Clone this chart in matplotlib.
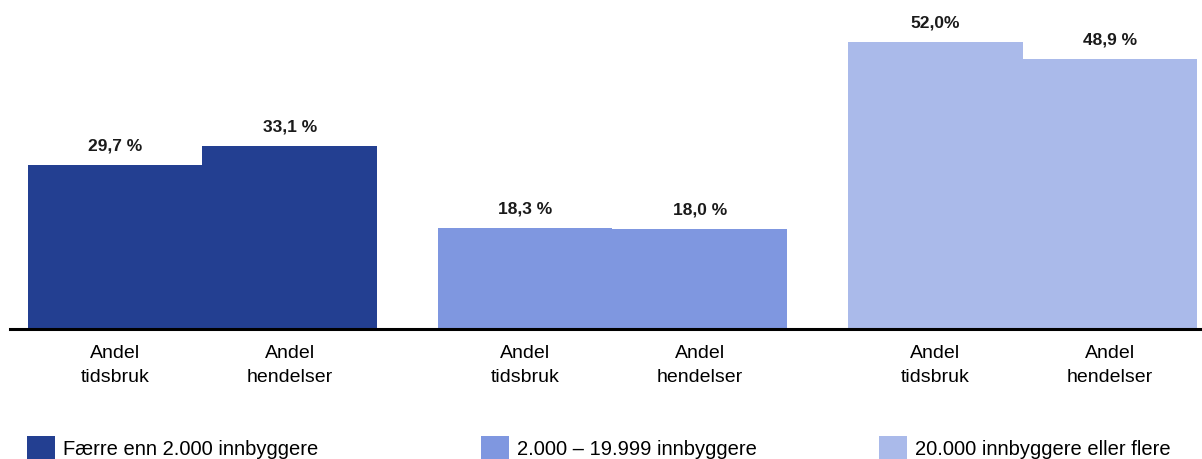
import matplotlib
matplotlib.use("Agg")
import matplotlib.pyplot as plt
from matplotlib.patches import Patch

plt.rcParams['font.family'] = ['Liberation Sans', 'DejaVu Sans']

# Data
groups = ["Færre enn 2.000 innbyggere", "2.000 – 19.999 innbyggere", "20.000 innbyggere eller flere"]
categories = ["Andel\ntidsbruk", "Andel\nhendelser"]
values = [[29.7, 33.1], [18.3, 18.0], [52.0, 48.9]]
value_labels = [["29,7 %", "33,1 %"], ["18,3 %", "18,0 %"], ["52,0%", "48,9 %"]]
colors = ["#233F91", "#7F97E0", "#AABAEA"]

W, H = 1202, 460
fig = plt.figure(figsize=(W / 100, H / 100), dpi=100)
base_px = 329.5
ax = fig.add_axes([10 / W, (H - base_px) / H, 1 - 10 / W, base_px / H])

gap = 0.35
xs, labels = [], []
for g, (vals, labs, col) in enumerate(zip(values, value_labels, colors)):
    for j, (v, lab) in enumerate(zip(vals, labs)):
        x = g * (2 + gap) + j
        ax.bar(x, v, width=1.0, color=col, edgecolor='none')
        ax.annotate(lab, (x, v), xytext=(0, 14.5), textcoords='offset points',
                    ha='center', va='center', fontsize=12.5, fontweight='bold', color='#1a1a1a')
        xs.append(x)
        labels.append(categories[j])

ax.set_xticks(xs)
ax.set_xticklabels(labels, fontsize=14, linespacing=1.5)
ax.tick_params(axis='x', length=0, pad=11.5)
ax.set_yticks([])
ax.set_ylim(0, 59.8)
ax.set_xlim(-0.5 - 18 / 174.5, xs[-1] + 0.5 + 5 / 174.5)
for s in ['top', 'right', 'left']:
    ax.spines[s].set_visible(False)
ax.spines['bottom'].set_linewidth(2.2)
ax.spines['bottom'].set_color('black')

leg_x = [27, 481, 879]
for gname, col, lx in zip(groups, colors, leg_x):
    fig.legend(handles=[Patch(facecolor=col, edgecolor='none')], labels=[gname],
               loc='upper left', bbox_to_anchor=(lx / W, 1 - 437 / H),
               frameon=False, fontsize=14.5, borderpad=0, borderaxespad=0,
               handlelength=1.4, handleheight=1.4, handletextpad=0.4)

fig.savefig("out.png", dpi=100)
